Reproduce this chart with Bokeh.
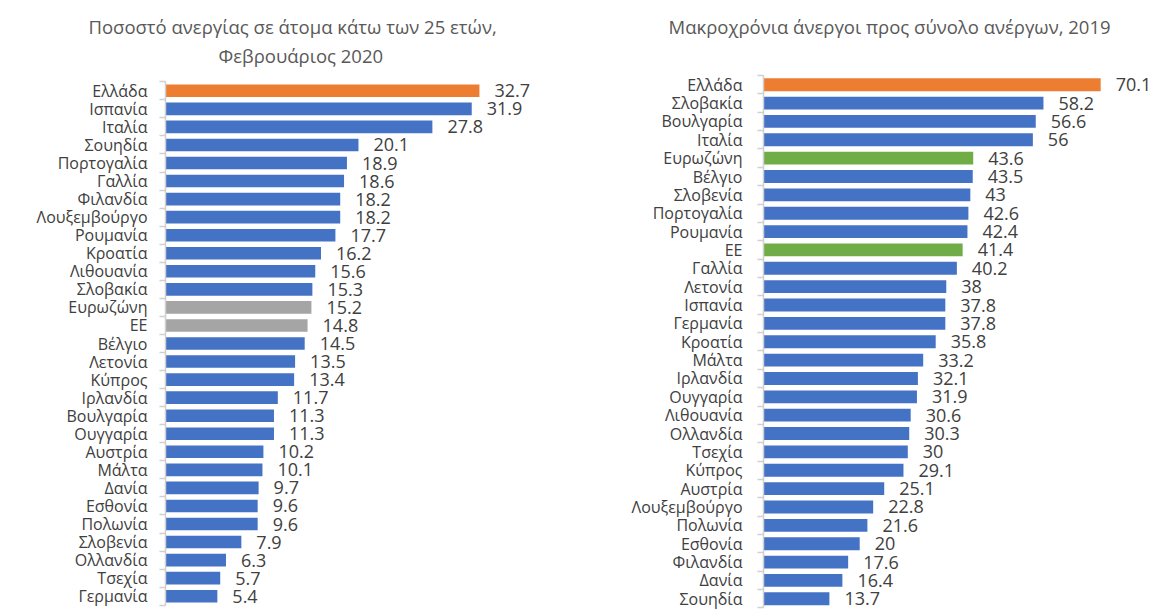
from bokeh.plotting import figure
from bokeh.layouts import row
from bokeh.models import Range1d, FixedTicker, Title, ColumnDataSource
from bokeh.core.properties import value
from bokeh.embed import file_html
from bokeh.resources import INLINE

# ---------------- data ----------------
left_title_1 = "Ποσοστό ανεργίας σε άτομα κάτω των 25 ετών,"
left_title_2 = "Φεβρουάριος 2020"
left_countries = ["Ελλάδα", "Ισπανία", "Ιταλία", "Σουηδία", "Πορτογαλία", "Γαλλία",
                  "Φιλανδία", "Λουξεμβούργο", "Ρουμανία", "Κροατία", "Λιθουανία",
                  "Σλοβακία", "Ευρωζώνη", "ΕΕ", "Βέλγιο", "Λετονία", "Κύπρος",
                  "Ιρλανδία", "Βουλγαρία", "Ουγγαρία", "Αυστρία", "Μάλτα", "Δανία",
                  "Εσθονία", "Πολωνία", "Σλοβενία", "Ολλανδία", "Τσεχία", "Γερμανία"]
left_values = [32.7, 31.9, 27.8, 20.1, 18.9, 18.6, 18.2, 18.2, 17.7, 16.2, 15.6,
               15.3, 15.2, 14.8, 14.5, 13.5, 13.4, 11.7, 11.3, 11.3, 10.2, 10.1,
               9.7, 9.6, 9.6, 7.9, 6.3, 5.7, 5.4]

right_title = "Μακροχρόνια άνεργοι προς σύνολο ανέργων, 2019"
right_countries = ["Ελλάδα", "Σλοβακία", "Βουλγαρία", "Ιταλία", "Ευρωζώνη", "Βέλγιο",
                   "Σλοβενία", "Πορτογαλία", "Ρουμανία", "ΕΕ", "Γαλλία", "Λετονία",
                   "Ισπανία", "Γερμανία", "Κροατία", "Μάλτα", "Ιρλανδία", "Ουγγαρία",
                   "Λιθουανία", "Ολλανδία", "Τσεχία", "Κύπρος", "Αυστρία",
                   "Λουξεμβούργο", "Πολωνία", "Εσθονία", "Φιλανδία", "Δανία", "Σουηδία"]
right_values = [70.1, 58.2, 56.6, 56, 43.6, 43.5, 43, 42.6, 42.4, 41.4, 40.2, 38,
                37.8, 37.8, 35.8, 33.2, 32.1, 31.9, 30.6, 30.3, 30, 29.1, 25.1,
                22.8, 21.6, 20, 17.6, 16.4, 13.7]

# ---------------- styles ----------------
FONT = "Open Sans"
BLUE = "#4472C4"
ORANGE = "#ED7D31"
GRAY = "#A5A5A5"
GREEN = "#70AD47"
TXT = "#404040"
TITLE_C = "#595959"
AXIS_C = "#D0D0D0"


def make_panel(cats, vals, highlight, agg_color, titles, width, border_left,
               x_end, c0, step, label_standoff):
    n = len(cats)
    frame_top, frame_bottom = 70, 610
    height = 610
    colors = [ORANGE if c == highlight else (agg_color if c in ("Ευρωζώνη", "ΕΕ") else BLUE)
              for c in cats]
    src = ColumnDataSource(dict(y=list(range(n)), v=vals, c=colors,
                                lbl=[f"{v:g}" for v in vals]))
    y_start = (frame_bottom - c0) / step
    y_end = (frame_top - c0) / step
    p = figure(width=width, height=height, output_backend="svg", toolbar_location=None,
               x_range=Range1d(0, x_end), y_range=Range1d(y_start, y_end),
               title=None, min_border_left=border_left, min_border_right=0,
               min_border_top=frame_top, min_border_bottom=0,
               x_axis_location=None, outline_line_color=None,
               background_fill_color="white", border_fill_color="white")
    p.hbar(y="y", left=0, right="v", height=0.7, fill_color="c", line_color=None, source=src)
    p.text(x="v", y="y", text="lbl", source=src, x_offset=15, text_align="left",
           text_baseline="middle", text_font=value(FONT), text_font_size="18px",
           text_color=TXT)
    ax = p.yaxis[0]
    ax.ticker = FixedTicker(ticks=list(range(n)),
                            minor_ticks=[i - 0.5 for i in range(n + 1)])
    ax.major_label_overrides = {i: c for i, c in enumerate(cats)}
    ax.bounds = (-0.5, n - 0.5)
    ax.axis_line_color = AXIS_C
    ax.axis_line_width = 1.5
    ax.major_tick_out = 0
    ax.major_tick_in = 0
    ax.minor_tick_out = 6
    ax.minor_tick_in = 0
    ax.minor_tick_line_color = AXIS_C
    ax.minor_tick_line_width = 1.5
    ax.major_label_standoff = label_standoff
    ax.major_label_text_font = FONT
    ax.major_label_text_font_size = "16px"
    ax.major_label_text_color = TXT
    p.xgrid.grid_line_color = None
    p.ygrid.grid_line_color = None
    # titles: (text, offset from frame left, standoff); first entry is the top line
    for text, off, sto in reversed(titles):
        p.add_layout(Title(text=text, align="left", offset=off,
                           text_font=FONT, text_font_size="18.5px",
                           text_font_style="normal", text_color=TITLE_C,
                           standoff=sto), "above")
    return p


p1 = make_panel(left_countries, left_values, "Ελλάδα", GRAY,
                [(left_title_1, -77, 0), (left_title_2, 53, 5)],
                width=580, border_left=165,
                x_end=415 / 9.6, c0=90.3, step=18.05, label_standoff=12)
p2 = make_panel(right_countries, right_values, "Ελλάδα", GREEN,
                [(right_title, -95, 0), (" ", 0, 5)],
                width=578, border_left=183,
                x_end=395 / 4.81, c0=84.2, step=18.36, label_standoff=15)

layout = row(p1, p2)
open("out.html", "w").write(file_html(layout, INLINE))
